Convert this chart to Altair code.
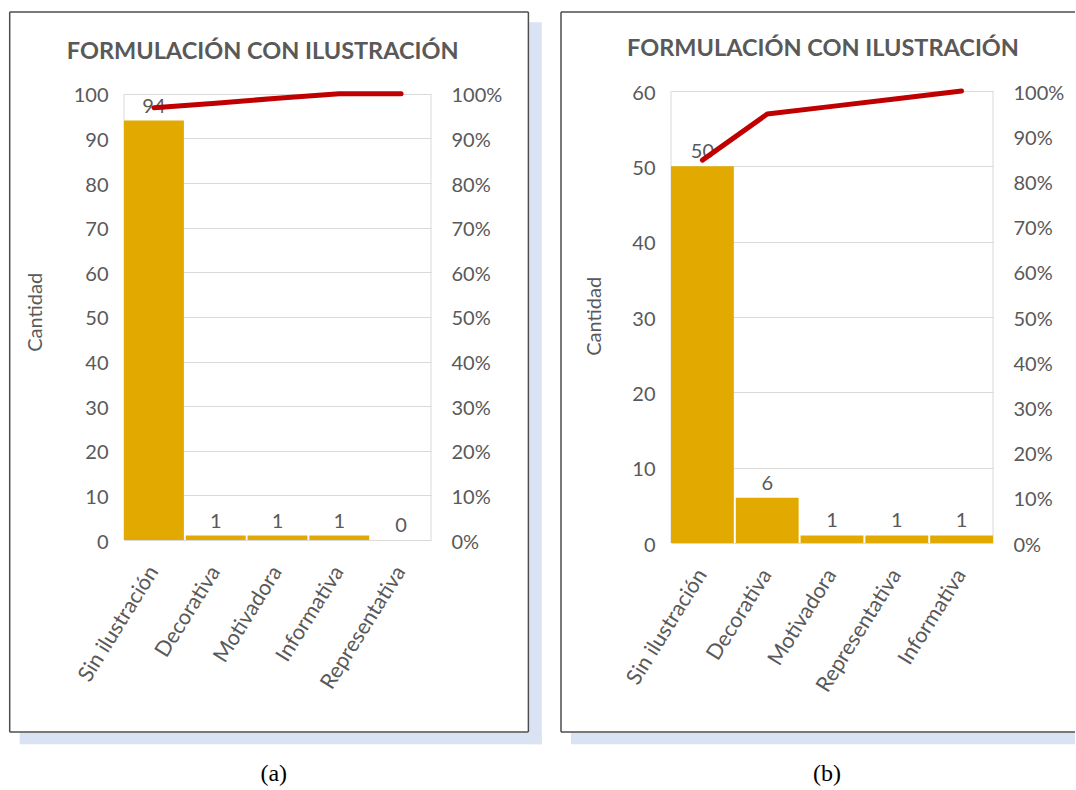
import altair as alt
import pandas as pd

# ---------------- data ----------------
cats_a = ["Sin ilustración", "Decorativa", "Motivadora", "Informativa", "Representativa"]
vals_a = [94, 1, 1, 1, 0]
cum_a = [0.969, 0.979, 0.990, 1.0, 1.0]

cats_b = ["Sin ilustración", "Decorativa", "Motivadora", "Representativa", "Informativa"]
vals_b = [50, 6, 1, 1, 1]
cum_b = [0.847, 0.949, 0.966, 0.983, 1.0]

left_ticks_a = [0, 10, 20, 30, 40, 50, 60, 70, 80, 90, 100]
left_ticks_b = [0, 10, 20, 30, 40, 50, 60]
pct_ticks = [0, 0.1, 0.2, 0.3, 0.4, 0.5, 0.6, 0.7, 0.8, 0.9, 1.0]

chart_title = "FORMULACIÓN CON ILUSTRACIÓN"
axis_title = "Cantidad"
captions = ["(a)", "(b)"]

# ---------------- style ----------------
FONT = "Lato"
GRAY = "#595959"
GOLD = "#E2AA00"
RED = "#C00000"
GRID = "#D9D9D9"
FRAME = "#4d4d4d"
SHADOW = "#DAE3F3"


def panel(cats, vals, cum, yticks, ymax, pmax, w, h, g):
    df = pd.DataFrame({"cat": cats, "val": vals, "cum": cum, "idx": list(range(len(cats)))})
    one = pd.DataFrame({"k": [0]})

    x = alt.X("cat:N", sort=cats, title=None,
              scale=alt.Scale(paddingInner=0.03, paddingOuter=0.0),
              axis=alt.Axis(labelAngle=-58, labelAlign="right", labelBaseline="middle",
                            labelFont=FONT, labelFontSize=21.5, labelColor=GRAY,
                            labelPadding=28, domain=False, ticks=False, labelLimit=400))
    y = alt.Y("val:Q", title=None,
              scale=alt.Scale(domain=[0, ymax], nice=False, zero=True),
              axis=alt.Axis(values=yticks, grid=True, gridColor=GRID, gridWidth=1,
                            domain=False, ticks=False, labelPadding=16, labelOffset=2,
                            labelFont=FONT, labelFontSize=20, labelColor=GRAY))
    bars = alt.Chart(df).mark_bar(color=GOLD).encode(x=x, y=y)
    labels = alt.Chart(df).mark_text(baseline="alphabetic", dy=-8, font=FONT, fontSize=20,
                                     color=GRAY).encode(x=x, y=y, text="val:Q")
    line = alt.Chart(df).mark_line(color=RED, strokeWidth=5, strokeCap="round",
                                   strokeJoin="round").encode(
        x=x,
        y=alt.Y("cum:Q", title=None,
                scale=alt.Scale(domain=[0, pmax], nice=False, zero=True),
                axis=alt.Axis(orient="right", values=pct_ticks, format=".0%", grid=False,
                              domain=False, ticks=False, labelPadding=20, labelOffset=2,
                              labelFont=FONT, labelFontSize=20, labelColor=GRAY)),
        order="idx:Q")

    deco = []
    # shadows
    for (sx1, sx2, sy1, sy2) in g["shadows"]:
        deco.append(alt.Chart(one).mark_rect(color=SHADOW).encode(
            x=alt.value(sx1), x2=alt.value(sx2), y=alt.value(sy1), y2=alt.value(sy2)))
    # frame lines
    for (fx1, fx2, fy1, fy2) in g["frame"]:
        deco.append(alt.Chart(one).mark_rule(color=FRAME, strokeWidth=1.5).encode(
            x=alt.value(fx1), x2=alt.value(fx2), y=alt.value(fy1), y2=alt.value(fy2)))
    # plot side borders
    for bx in (0, w):
        deco.append(alt.Chart(one).mark_rule(color=GRID, strokeWidth=1).encode(
            x=alt.value(bx), y=alt.value(g["ptop"]), y2=alt.value(h)))
    # title
    deco.append(alt.Chart(one).mark_text(text=chart_title, font=FONT, fontSize=23.5,
                                         fontWeight="bold", color=GRAY, align="center",
                                         baseline="alphabetic").encode(
        x=alt.value(g["tx"]), y=alt.value(g["ty"])))
    # y axis title
    deco.append(alt.Chart(one).mark_text(text=axis_title, font=FONT, fontSize=20, angle=270,
                                         color=GRAY, align="center",
                                         baseline="middle").encode(
        x=alt.value(g["cx"]), y=alt.value(g["cy"])))
    # caption
    deco.append(alt.Chart(one).mark_text(text=g["cap"], font="Liberation Serif", fontSize=24,
                                         color="black", align="center",
                                         baseline="alphabetic").encode(
        x=alt.value(g["capx"]), y=alt.value(g["capy"])))

    return alt.layer(*deco, alt.layer(bars, labels), line).resolve_scale(
        y="independent").properties(width=w, height=h)


WA, HA = 307, 449
WB, HB = 322, 452

geom_a = {
    "shadows": [(405.2, 417.7, -68.7, 653.3), (-104.3, 417.7, 641.8, 653.3)],
    "frame": [(-114.3, 404.4, -79, -79), (-114.3, 404.4, 641, 641),
              (-114.3, -114.3, -79, 641), (404.4, 404.4, -79, 641)],
    "ptop": 2.8,
    "tx": 138.7, "ty": -31.7,
    "cx": -87.8, "cy": 221.3,
    "cap": captions[0], "capx": 149.7, "capy": 690,
}
geom_b = {
    "shadows": [(-100, 404, 641.8, 653.3)],
    "frame": [(-110, 404, -79, -79), (-110, 404, 641, 641), (-110, -110, -79, 641)],
    "ptop": 0,
    "tx": 152, "ty": -34.7,
    "cx": -76, "cy": 225.3,
    "cap": captions[1], "capx": 156, "capy": 690,
}

pa = panel(cats_a, vals_a, cum_a, left_ticks_a, 100 * HA / 446.2, HA / 446.2, WA, HA, geom_a)
pb = panel(cats_b, vals_b, cum_b, left_ticks_b, 60, 1.0, WB, HB, geom_b)

chart = alt.hconcat(pa, pb, spacing=240, bounds="flush").properties(
    padding={"left": 8, "top": 11, "right": 0, "bottom": 0},
    background="white",
).configure_view(strokeWidth=0)

chart.save("out.html", embed_options={"renderer": "svg", "actions": False})
